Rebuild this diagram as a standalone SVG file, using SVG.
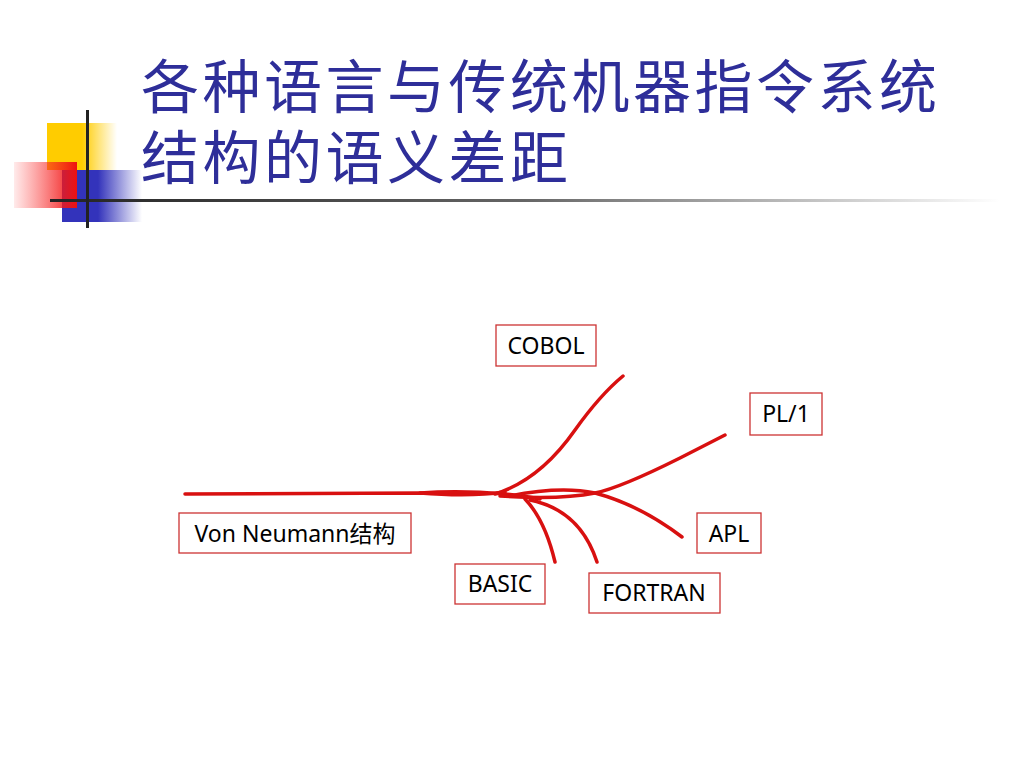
<svg xmlns="http://www.w3.org/2000/svg" width="1024" height="768" viewBox="0 0 1024 768">
<defs>
<linearGradient id="gy" x1="0" x2="1"><stop offset="0.5" stop-color="#FFCC00"/><stop offset="1" stop-color="#FFCC00" stop-opacity="0"/></linearGradient>
<linearGradient id="gr" x1="0" x2="1"><stop offset="0" stop-color="#FF3333" stop-opacity="0.1"/><stop offset="1" stop-color="#EE1111"/></linearGradient>
<linearGradient id="gb" x1="0" x2="1"><stop offset="0.45" stop-color="#3333BB"/><stop offset="1" stop-color="#3333BB" stop-opacity="0"/></linearGradient>
<linearGradient id="gl" x1="0" x2="1"><stop offset="0" stop-color="#222"/><stop offset="0.5" stop-color="#666"/><stop offset="1" stop-color="#fff"/></linearGradient>
<style>
.box{fill:#fff;stroke:#CC3333;stroke-width:1.3}
.lb{font-family:"Noto Sans","Noto Sans CJK SC",sans-serif;font-size:23px;fill:#000;text-anchor:middle}
.br{fill:none;stroke:#D81010;stroke-width:3.5;stroke-linecap:round}
.tt{font-family:"Noto Sans CJK SC",sans-serif;font-size:58px;font-weight:400;letter-spacing:3.5px;fill:#2E2E99}
</style>
</defs>
<rect width="1024" height="768" fill="#fff"/>
<g id="decor">
<rect x="47" y="123" width="70" height="47" fill="url(#gy)"/>
<rect x="62" y="170" width="80" height="52" fill="url(#gb)"/>
<rect x="14" y="162" width="63" height="46" fill="url(#gr)"/>
<rect x="50" y="199" width="950" height="3" fill="url(#gl)"/>
<rect x="86" y="110" width="3" height="118" fill="#222"/>
</g>
<g id="title">
<text class="tt" x="141" y="108">各种语言与传统机器指令系统</text>
<text class="tt" x="141" y="179">结构的语义差距</text>
</g>
<g id="connectors">
<path class="br" d="M185,494 L420,493 Q470,497 505,492"/>
<path class="br" d="M420,493 Q460,490 505,494 Q530,497 540,499"/>
<path class="br" d="M495,494 Q540,480 575,430 Q600,395 623,376"/>
<path class="br" d="M500,496 Q560,500 595,493 Q620,488 680,458 L725,435"/>
<path class="br" d="M510,496 Q560,486 595,493 Q640,505 682,537"/>
<path class="br" d="M525,499 Q545,520 555,562"/>
<path class="br" d="M530,500 Q580,510 597,562"/>
</g>
<g id="cobol"><rect class="box" x="496" y="325" width="100" height="41"/><text class="lb" x="546" y="354">COBOL</text></g>
<g id="pl1"><rect class="box" x="750" y="393" width="72" height="42"/><text class="lb" x="786" y="422">PL/1</text></g>
<g id="vn"><rect class="box" x="179" y="513" width="232" height="40"/><text class="lb" x="295" y="542">Von Neumann结构</text></g>
<g id="apl"><rect class="box" x="697" y="513" width="64" height="40"/><text class="lb" x="729" y="542">APL</text></g>
<g id="basic"><rect class="box" x="455" y="564" width="90" height="40"/><text class="lb" x="500" y="592">BASIC</text></g>
<g id="fortran"><rect class="box" x="589" y="573" width="131" height="40"/><text class="lb" x="654" y="601">FORTRAN</text></g>
</svg>
